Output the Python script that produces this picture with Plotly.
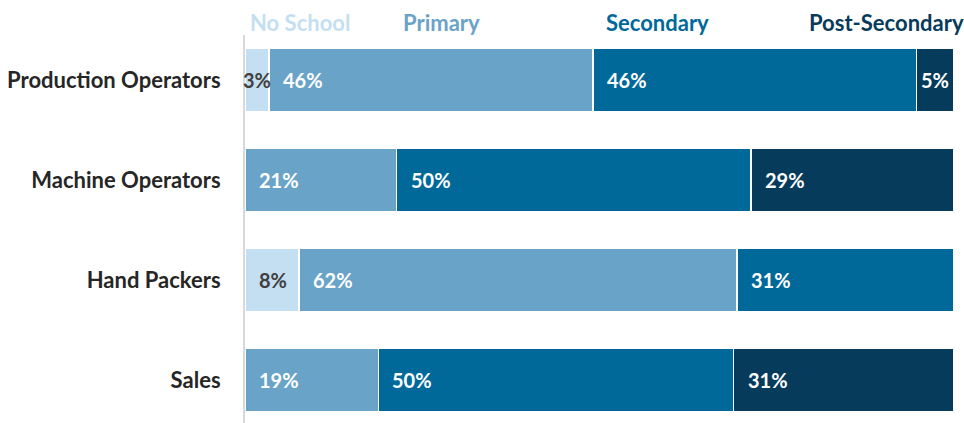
import plotly.graph_objects as go

categories = ["Production Operators", "Machine Operators", "Hand Packers", "Sales"]
series_names = ["No School", "Primary", "Secondary", "Post-Secondary"]
no_school = [3.4, 0, 7.6, 0]
primary = [45.7, 21.4, 61.8, 18.8]
secondary = [45.6, 50.0, 30.6, 50.1]
post_secondary = [5.3, 28.6, 0, 31.1]
values = [no_school, primary, secondary, post_secondary]

colors = ["#C5DFF2", "#6AA3C8", "#00699A", "#073B5B"]
label_colors = ["#404040", "#FFFFFF", "#FFFFFF", "#FFFFFF"]
FONT = "Lato"

fig = go.Figure()
for name, vals, col in zip(series_names, values, colors):
    fig.add_trace(go.Bar(
        y=categories, x=vals, name=name, orientation="h",
        marker=dict(color=col, line=dict(color="white", width=1.5)),
        width=0.63, hoverinfo="x+name",
    ))

annotations = []
for ci, cat in enumerate(categories):
    start = 0.0
    for si, vals in enumerate(values):
        v = vals[ci]
        if v > 0:
            txt = f"{round(v):.0f}%"
            lf = dict(family=FONT, size=20, color=label_colors[si], weight="bold")
            if v < 6:
                annotations.append(dict(x=start + v / 2, y=cat, xref="x", yref="y",
                                        text=txt, showarrow=False, xanchor="center", font=lf))
            else:
                annotations.append(dict(x=start, y=cat, xref="x", yref="y",
                                        text=txt, showarrow=False, xanchor="left", xshift=12,
                                        font=lf))
        start += v

header_x = [0.004, 0.22, 0.506, 0.793]
for name, col, hx in zip(series_names, colors, header_x):
    annotations.append(dict(x=hx, y=1, xref="paper", yref="paper", yshift=13,
                            text=name, showarrow=False, xanchor="left", yanchor="middle",
                            font=dict(family=FONT, size=22, color=col, weight="bold")))

fig.update_layout(
    barmode="stack",
    width=964, height=423,
    margin=dict(l=245, r=10, t=35, b=0),
    plot_bgcolor="white", paper_bgcolor="white",
    showlegend=False,
    annotations=annotations,
    xaxis=dict(range=[0, 100], visible=False, fixedrange=True),
    yaxis=dict(categoryorder="array", categoryarray=categories,
               range=[3.43, -0.45], showline=True, linecolor="#D9D9D9", linewidth=2,
               showgrid=False, zeroline=False, ticks="", ticklabelstandoff=18,
               tickfont=dict(family=FONT, size=22, color="#262626", weight="bold")),
)

fig.write_html("out.html", config={"displayModeBar": False},
               post_script="document.body.style.margin='0';")
